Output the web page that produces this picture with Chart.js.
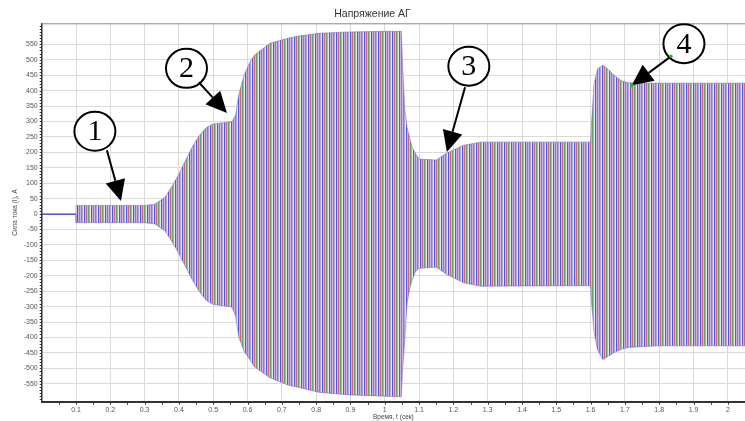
<!DOCTYPE html>
<html>
<head>
<meta charset="UTF-8">
<title>Напряжение АГ</title>
<script src="https://cdn.jsdelivr.net/npm/chart.js@4.4.1/dist/chart.umd.min.js"></script>
<style>
    body { margin: 0; background: #fff; }
    #wrap { width: 745px; height: 421px; }
</style>
</head>
<body>
<div id="wrap"><canvas id="chart" width="745" height="421"></canvas></div>
<script>
// current before the generator starts (flat line at zero)
var preTime = [0, 0.1];
var preCurrent = [0, 0];

// envelope of the three-phase current (t in s, I in A)
var envTime  = [0.1, 0.1, 0.3, 0.33, 0.36, 0.38, 0.40, 0.42, 0.44, 0.46, 0.48, 0.50, 0.53, 0.555, 0.565, 0.575, 0.59, 0.605, 0.62, 0.665, 0.72, 0.75, 0.81, 0.90, 1.0, 1.048, 1.052, 1.058, 1.065, 1.073, 1.08, 1.09, 1.10, 1.15, 1.18, 1.23, 1.28, 1.4, 1.6, 1.603, 1.61, 1.62, 1.636, 1.65, 1.67, 1.69, 1.71, 1.8, 2.05];
var envUpper = [0, 28, 28, 32, 55, 90, 130, 175, 220, 255, 280, 292, 296, 300, 320, 390, 450, 488, 515, 553, 570, 577, 586, 590, 592, 592, 482, 343, 280, 245, 215, 195, 178, 175, 197, 223, 233, 233, 233, 300, 420, 470, 482, 470, 448, 432, 425, 424, 424];
var envLower = [0, -28, -28, -32, -55, -90, -128, -172, -215, -252, -280, -293, -297, -302, -330, -400, -445, -468, -495, -530, -555, -562, -578, -586, -590, -592, -500, -414, -288, -240, -213, -185, -176, -172, -195, -223, -234, -233, -232, -290, -380, -440, -472, -462, -448, -438, -432, -427, -427];

// numbered callouts: label, circle centre, arrow start, arrow tip (data coords)
var markLabels = ['1', '2', '3', '4'];
var markCentre = [[0.155, 268], [0.422, 472], [1.245, 479], [1.872, 552]];
var markFrom   = [[0.190, 207], [0.458, 427], [1.234, 411], [1.834, 511]];
var markTip    = [[0.231, 42], [0.540, 327], [1.181, 201], [1.720, 417]];

function toXY(xs, ys) {
    var out = [];
    for (var i = 0; i < xs.length; i++) out.push({x: xs[i], y: ys[i]});
    return out;
}

// dense red/green/blue oscillation look, done as a stripe fill
function stripePattern() {
    var cols = ['#5656dc', '#c9b4de', '#dc6470', '#cbb9dc', '#5aa86a', '#aea6e0', '#ebe5f3'];
    var c = document.createElement('canvas');
    c.width = cols.length; c.height = 1;
    var g = c.getContext('2d');
    for (var i = 0; i < cols.length; i++) {
        g.fillStyle = cols[i];
        g.fillRect(i, 0, 1, 1);
    }
    return document.getElementById('chart').getContext('2d').createPattern(c, 'repeat');
}

var decorations = {
    id: 'decorations',
    afterDraw: function (chart) {
        var ctx = chart.ctx, a = chart.chartArea;
        var xs = chart.scales.x, ys = chart.scales.y;
        ctx.save();
        // top frame line
        ctx.strokeStyle = '#8a8a8a';
        ctx.lineWidth = 1;
        ctx.beginPath();
        ctx.moveTo(a.left, a.top + 0.5);
        ctx.lineTo(a.right, a.top + 0.5);
        ctx.stroke();
        // minor ticks
        ctx.strokeStyle = '#333';
        ctx.beginPath();
        for (var v = -600; v <= 610; v += 10) {
            var py = Math.round(ys.getPixelForValue(v)) + 0.5;
            ctx.moveTo(a.left - 2, py);
            ctx.lineTo(a.left, py);
        }
        for (var t = 0.05; t < 2.05; t += 0.05) {
            var px = Math.round(xs.getPixelForValue(t)) + 0.5;
            ctx.moveTo(px, a.bottom);
            ctx.lineTo(px, a.bottom + 3);
        }
        ctx.stroke();

        // callouts
        for (var i = 0; i < markLabels.length; i++) {
            var cx = xs.getPixelForValue(markCentre[i][0]);
            var cy = ys.getPixelForValue(markCentre[i][1]);
            var fx = xs.getPixelForValue(markFrom[i][0]);
            var fy = ys.getPixelForValue(markFrom[i][1]);
            var tx = xs.getPixelForValue(markTip[i][0]);
            var ty = ys.getPixelForValue(markTip[i][1]);
            ctx.fillStyle = '#fff';
            ctx.strokeStyle = '#000';
            ctx.lineWidth = 2;
            ctx.beginPath();
            ctx.ellipse(cx, cy, 20.5, 19.5, 0, 0, Math.PI * 2);
            ctx.fill();
            ctx.stroke();
            ctx.fillStyle = '#000';
            ctx.font = '30px "Liberation Serif", "DejaVu Serif", serif';
            ctx.textAlign = 'center';
            ctx.textBaseline = 'middle';
            ctx.fillText(markLabels[i], cx, cy + 1);

            var ang = Math.atan2(ty - fy, tx - fx);
            var headLen = 21, headW = 10;
            var bx = tx - headLen * Math.cos(ang), by = ty - headLen * Math.sin(ang);
            ctx.beginPath();
            ctx.moveTo(fx, fy);
            ctx.lineTo(bx, by);
            ctx.stroke();
            ctx.beginPath();
            ctx.moveTo(tx, ty);
            ctx.lineTo(bx + headW * Math.sin(ang), by - headW * Math.cos(ang));
            ctx.lineTo(bx - headW * Math.sin(ang), by + headW * Math.cos(ang));
            ctx.closePath();
            ctx.fill();
            if (i === 3) {
                ctx.fillStyle = '#22bb22';
                ctx.beginPath(); ctx.arc(fx, fy, 1.8, 0, Math.PI * 2); ctx.fill();
                ctx.beginPath(); ctx.arc(tx, ty, 1.8, 0, Math.PI * 2); ctx.fill();
            }
        }
        ctx.restore();
    }
};

var tickFont = {family: '"Liberation Sans", Arial, sans-serif', size: 7};
var titleFont = {family: '"Liberation Sans", Arial, sans-serif', size: 6.5};

var chart = new Chart(document.getElementById('chart'), {
    type: 'line',
    data: {
        datasets: [{
            label: 'upper',
            data: toXY(envTime, envUpper),
            borderColor: 'rgba(120,100,200,0.55)',
            borderWidth: 1,
            pointRadius: 0,
            fill: false,
            tension: 0
        }, {
            label: 'lower',
            data: toXY(envTime, envLower),
            borderColor: 'rgba(120,100,200,0.55)',
            borderWidth: 1,
            backgroundColor: stripePattern(),
            pointRadius: 0,
            fill: '-1',
            tension: 0
        }, {
            label: 'pre',
            data: toXY(preTime, preCurrent),
            borderColor: '#3232d2',
            borderWidth: 1.2,
            pointRadius: 0,
            fill: false
        }]
    },
    options: {
        responsive: false,
        animation: false,
        layout: {padding: {left: 0, right: 0, top: 0, bottom: 0}},
        plugins: {
            legend: {display: false},
            tooltip: {enabled: false},
            title: {
                display: true,
                text: 'Напряжение АГ',
                color: '#333',
                font: {family: '"Liberation Sans", Arial, sans-serif', size: 10.5, weight: 'normal'},
                padding: {top: 8, bottom: 2.7}
            }
        },
        scales: {
            x: {
                type: 'linear',
                min: 0,
                max: 2.05,
                grid: {color: '#dadada', drawTicks: false},
                border: {color: '#333', width: 2},
                ticks: {
                    stepSize: 0.1,
                    includeBounds: false,
                    autoSkip: false,
                    maxRotation: 0,
                    padding: 4,
                    color: '#555',
                    font: tickFont,
                    callback: function (v) { return String(Math.round(v * 10) / 10); }
                },
                afterBuildTicks: function (s) {
                    s.ticks = s.ticks.filter(function (t) { return t.value > 0.001; });
                },
                afterFit: function (s) { s.height = 19.3; },
                title: {display: true, text: 'Время, t (сек)', color: '#444', font: titleFont, padding: 0}
            },
            y: {
                min: -608,
                max: 618,
                grid: {color: '#dadada', drawTicks: false},
                border: {color: '#333', width: 1.5},
                ticks: {
                    stepSize: 50,
                    includeBounds: false,
                    autoSkip: false,
                    padding: 4,
                    color: '#555',
                    font: tickFont
                },
                afterBuildTicks: function (s) {
                    s.ticks = s.ticks.filter(function (t) { return Math.abs(t.value) <= 550; });
                },
                afterFit: function (s) { s.width = 41.7; },
                title: {display: true, text: 'Сила тока (I), A', color: '#444', font: titleFont, padding: {top: 11, bottom: 0}}
            }
        }
    },
    plugins: [decorations]
});
</script>
</body>
</html>
